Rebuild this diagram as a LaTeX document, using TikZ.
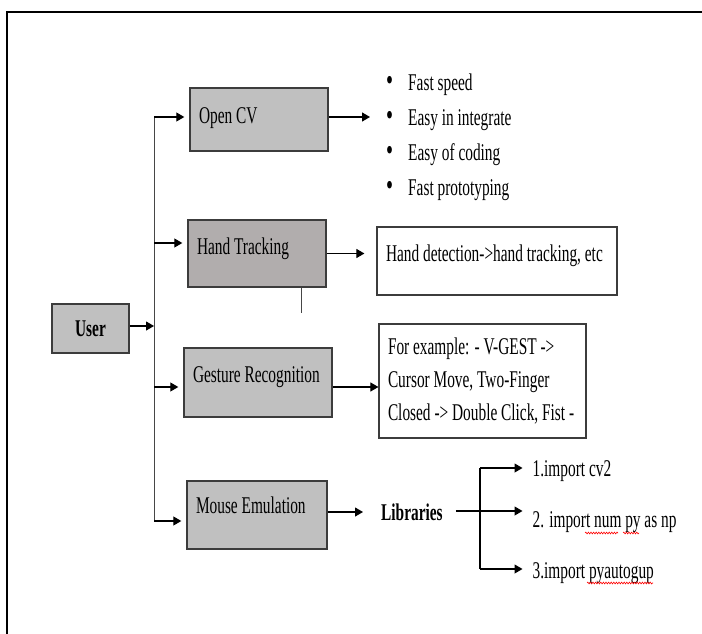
\documentclass[tikz,border=0pt]{standalone}
\usepackage{fontspec}
\setmainfont{Liberation Serif}[FakeStretch=0.64]
\usetikzlibrary{arrows.meta, decorations.pathmorphing}

\definecolor{boxgray}{RGB}{192,192,192}
\definecolor{trackgray}{RGB}{177,173,173}
\definecolor{edgegray}{RGB}{60,60,60}
\definecolor{linegray}{RGB}{70,70,70}

\newcommand{\bul}{\makebox[22pt][l]{\scalebox{1.3}{\textbullet}}}

\begin{document}
\begin{tikzpicture}[x=1pt, y=-1pt,
  every node/.style={font=\fontsize{24}{33}\selectfont},
  block/.style={draw=edgegray, line width=1.4pt, fill=boxgray, align=left,
    inner xsep=9pt, inner ysep=0pt, text height=16pt,
    execute at begin node={\spaceskip=0pt\xspaceskip=0pt}},
  plainbox/.style={draw=edgegray, line width=1.2pt, align=left,
    inner xsep=9pt, inner ysep=0pt,
    execute at begin node={\spaceskip=0pt\xspaceskip=0pt}},
  conn/.style={line width=1.1pt, -{Triangle[length=8pt, width=9pt]}},
  trunkline/.style={draw=linegray, line width=1pt},
  squiggle/.style={red, line width=0.6pt, decorate,
    decoration={snake, amplitude=0.9pt, segment length=2.6pt}}
]
\useasboundingbox (0,0) rectangle (702,634);

%% --- outer frame ---
\draw[line width=2pt] (6.5,634) |- (702,12);

%% --- user and the four stages ---
\node[block, align=center, text width=59pt, minimum height=49pt, text depth=0pt,
  font=\fontsize{24}{33}\selectfont\bfseries] (user) at (90.5,328.5) {User};
\node[block, text width=120pt, minimum height=63pt, text depth=7pt]
  (opencv) at (259,119.5) {\mbox{Open CV}};
\node[block, fill=trackgray, text width=120pt, minimum height=67pt, text depth=14pt]
  (track) at (257,253.5) {\mbox{Hand Tracking}};
\node[block, text width=130pt, minimum height=69pt, text depth=16pt]
  (gesture) at (258,382.5) {\mbox{Gesture Recognition}};
\node[block, text width=122pt, minimum height=68pt, text depth=19pt]
  (mouse) at (257,515) {\mbox{Mouse Emulation}};

%% --- trunk from user ---
\coordinate (trunk) at (154,326);
\draw[conn] (user.east |- trunk) -- (trunk);
\draw[trunkline] (trunk |- 0,117) -- (trunk |- 0,521);
\foreach \b/\y in {opencv/117, track/243, gesture/387, mouse/521}
  \draw[conn, shorten >=5pt] (trunk |- 0,\y) -- (\b.west |- 0,\y);

%% --- stub under hand tracking ---
\draw[trunkline, line width=0.8pt] (track.south -| 301,0) -- ++(0,25);

%% --- open cv features ---
\node[anchor=west, inner sep=0pt, align=left] (feats) at (386,137.6)
  {\bul Fast speed\\[2pt] \bul Easy in integrate\\[2pt]
   \bul Easy of coding\\[2pt] \bul Fast prototyping};
\coordinate (cvtip) at (370,117);
\draw[conn] (opencv.east |- cvtip) -- (cvtip);

%% --- hand tracking detail ---
\node[plainbox, text width=222pt, minimum height=68pt, text height=16pt,
  text depth=15pt] (detect) at (497,261) {\mbox{Hand detection->hand tracking, etc}};
\draw[conn, shorten >=12pt] (track.east) -- (track.east -| detect.west);

%% --- gesture examples ---
\node[plainbox, text width=189pt, minimum height=114pt] (example) at (482.5,381)
  {\mbox{For example: - V-GEST ->}\\ \mbox{Cursor Move, Two-Finger}\\
   \mbox{Closed -> Double Click, Fist -}};
\draw[conn] (gesture.east |- 0,387) -- (example.west |- 0,387);

%% --- mouse emulation libraries ---
\node[anchor=base west, inner sep=0pt, font=\fontsize{24}{33}\selectfont\bfseries]
  (libs) at (381,520.7) {Libraries};
\draw[conn, shorten >=18pt] (mouse.east |- 0,512) -- (libs.west |- 0,512);

\node[anchor=base west, inner sep=0pt] (imp1) at (532.5,476.7) {1.import cv2};
\node[anchor=base west, inner sep=0pt] (imp2) at (532.5,527.3) {2. import num py as np};
\node[anchor=base west, inner sep=0pt] (imp3) at (532.5,578.3) {3.import pyautogup};

\coordinate (split) at (480,511);
\draw[line width=1.1pt, shorten <=13pt] (libs.east |- split) -- (split);
\draw[line width=1.1pt] (split |- 0,468) -- (split |- 0,569);
\foreach \i/\y in {1/468, 2/511, 3/569}
  \draw[conn, shorten >=10pt] (split |- 0,\y) -- (imp\i.west |- 0,\y);

%% --- spelling marks ---
\draw[squiggle] (585,533) -- (618,533);
\draw[squiggle] (623,533) -- (639,533);
\draw[squiggle] (587,583) -- (653,583);

\end{tikzpicture}
\end{document}
